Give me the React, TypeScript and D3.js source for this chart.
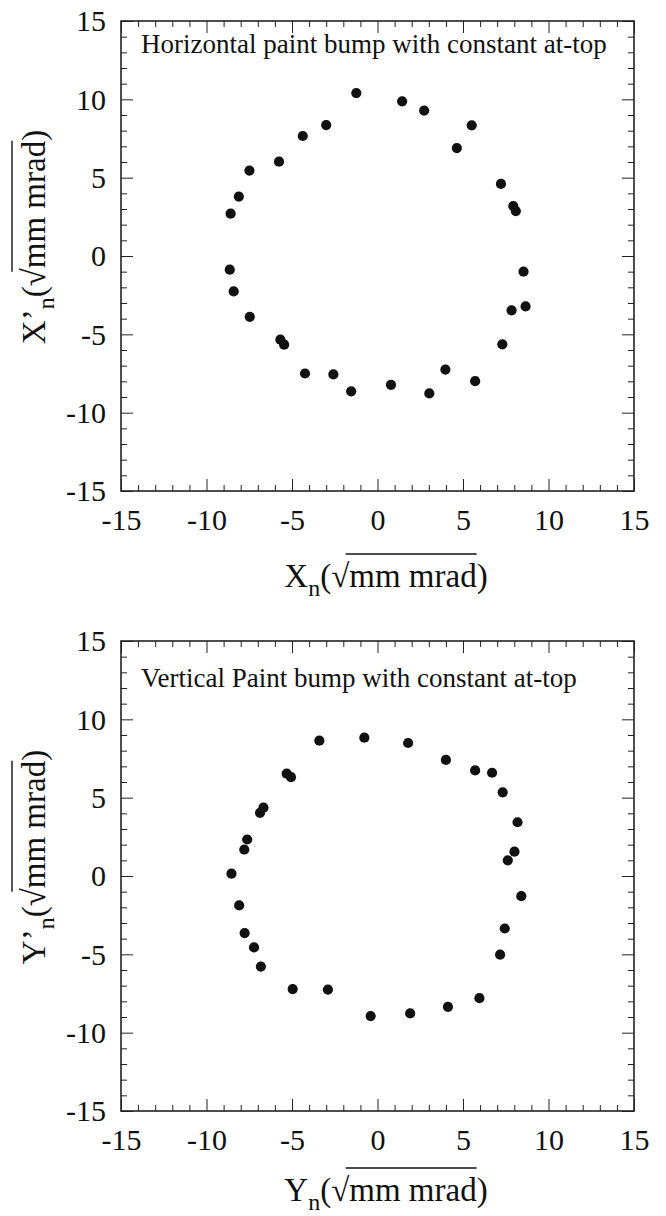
import React, { useRef, useEffect } from "react";
import * as d3 from "d3";

// phase-space points
const H_X = [-1.24, 1.44, 2.73, 5.51, 4.64, 7.22, 7.94, 8.09, 8.54, 8.66, 7.84, 7.3, 5.71, 3.97, 3.03, 0.79, -1.54, -2.58, -4.24, -5.46, -5.68, -7.47, -8.41, -8.64, -8.59, -8.11, -7.49, -5.76, -4.37, -3.0];
const H_Y = [10.4, 9.87, 9.28, 8.34, 6.89, 4.6, 3.19, 2.87, -1.0, -3.22, -3.47, -5.64, -7.99, -7.25, -8.77, -8.22, -8.64, -7.56, -7.5, -5.66, -5.34, -3.88, -2.26, -0.87, 2.7, 3.79, 5.45, 6.02, 7.66, 8.36];

const V_X = [-3.4, -0.77, 1.79, 4.0, 5.71, 6.7, 7.32, 8.19, 8.01, 7.62, 8.41, 7.44, 7.17, 5.96, 4.12, 1.91, -0.4, -2.9, -4.96, -6.82, -7.22, -7.77, -8.09, -8.54, -7.79, -7.62, -6.87, -6.67, -5.31, -5.06];
const V_Y = [8.64, 8.83, 8.49, 7.41, 6.74, 6.59, 5.34, 3.43, 1.55, 1.0, -1.29, -3.35, -5.02, -7.8, -8.35, -8.77, -8.94, -7.25, -7.22, -5.78, -4.56, -3.64, -1.88, 0.15, 1.69, 2.33, 4.03, 4.36, 6.53, 6.31];

const DOMAIN = [-15, 15];
const MAJOR = [-15, -10, -5, 0, 5, 10, 15];
const MINOR = d3.range(-15, 16).filter((v) => v % 5 !== 0);

const FONT = "Liberation Serif";

// plain hyphen like the original, not the unicode minus
const fmt = (d) => String(d);

function drawTitle(svg, tx, ty, rotate, main, fs) {
  const g = svg
    .append("g")
    .attr("transform", `translate(${tx},${ty})${rotate ? " rotate(-90)" : ""}`);
  const t = g
    .append("text")
    .attr("text-anchor", "middle")
    .style("font-family", FONT)
    .style("font-size", fs + "px")
    .attr("fill", "#111");
  t.append("tspan").text(main);
  t.append("tspan").attr("dy", 9).style("font-size", "24px").text("n");
  t.append("tspan").attr("dy", -9).text("(\u221A");
  t.append("tspan").text("mm mrad");
  t.append("tspan").text(")");

  // overline of the radical, measured from the glyphs
  const node = t.node();
  const full = main + "n(\u221Amm mrad)";
  const iRad = full.indexOf("\u221A");
  const iD = full.indexOf("d)");
  try {
    const a = node.getExtentOfChar(iRad);
    const b = node.getExtentOfChar(iD);
    g.append("line")
      .attr("x1", a.x + a.width * 0.8)
      .attr("x2", b.x + b.width)
      .attr("y1", -fs * 1.0)
      .attr("y2", -fs * 1.0)
      .attr("stroke", "#111")
      .attr("stroke-width", 1.4);
  } catch (e) {
    // ignore
  }
}

function drawPanel(svg, xs, ys, top, note, noteY, xMain, yMain, xTitleY) {
  const left = 121;
  const right = 634;
  const bottom = top + 470;

  const x = d3.scaleLinear().domain(DOMAIN).range([left, right]);
  const y = d3.scaleLinear().domain(DOMAIN).range([bottom, top]);

  const g = svg.append("g");

  const styleAxis = (sel) => {
    sel.attr("font-family", FONT).attr("font-size", 30);
    sel.select(".domain").remove();
    sel.selectAll("line").attr("stroke", "#222").attr("stroke-width", 1);
    sel
      .selectAll("text")
      .style("font-family", FONT)
      .style("font-size", "30px")
      .attr("fill", "#111");
  };

  // bottom: major with labels, minor without
  g.append("g")
    .attr("transform", `translate(0,${bottom})`)
    .call(d3.axisBottom(x).tickValues(MAJOR).tickSize(-12).tickPadding(0).tickFormat(fmt))
    .call(styleAxis)
    .call((s) => s.selectAll("text").attr("y", 39).attr("dy", null));
  g.append("g")
    .attr("transform", `translate(0,${bottom})`)
    .call(d3.axisBottom(x).tickValues(MINOR).tickSize(-6).tickFormat(() => ""))
    .call(styleAxis);

  // top
  g.append("g")
    .attr("transform", `translate(0,${top})`)
    .call(d3.axisTop(x).tickValues(MAJOR).tickSize(-12).tickFormat(() => ""))
    .call(styleAxis);
  g.append("g")
    .attr("transform", `translate(0,${top})`)
    .call(d3.axisTop(x).tickValues(MINOR).tickSize(-6).tickFormat(() => ""))
    .call(styleAxis);

  // left
  g.append("g")
    .attr("transform", `translate(${left},0)`)
    .call(d3.axisLeft(y).tickValues(MAJOR).tickSize(-12).tickPadding(15).tickFormat(fmt))
    .call(styleAxis)
    .call((s) => s.selectAll("text").attr("x", -15).attr("dy", "0.33em"));
  g.append("g")
    .attr("transform", `translate(${left},0)`)
    .call(d3.axisLeft(y).tickValues(MINOR).tickSize(-6).tickFormat(() => ""))
    .call(styleAxis);

  // right
  g.append("g")
    .attr("transform", `translate(${right},0)`)
    .call(d3.axisRight(y).tickValues(MAJOR).tickSize(-12).tickFormat(() => ""))
    .call(styleAxis);
  g.append("g")
    .attr("transform", `translate(${right},0)`)
    .call(d3.axisRight(y).tickValues(MINOR).tickSize(-6).tickFormat(() => ""))
    .call(styleAxis);

  // frame
  g.append("rect")
    .attr("x", left)
    .attr("y", top)
    .attr("width", right - left)
    .attr("height", bottom - top)
    .attr("fill", "none")
    .attr("stroke", "#222")
    .attr("stroke-width", 1.6);

  // points
  g.append("g")
    .selectAll("circle")
    .data(xs.map((v, i) => [v, ys[i]]))
    .enter()
    .append("circle")
    .attr("cx", (d) => x(d[0]))
    .attr("cy", (d) => y(d[1]))
    .attr("r", 5.1)
    .attr("fill", "#111");

  g.append("text")
    .attr("x", 141)
    .attr("y", top + noteY)
    .style("font-family", FONT)
    .style("font-size", "27px")
    .attr("fill", "#111")
    .text(note);

  drawTitle(g, 386, xTitleY, false, xMain, 33);
  drawTitle(g, 45, top + 216, true, yMain, 33);
}

export default function App() {
  const svgRef = useRef(null);

  useEffect(() => {
    const svg = d3.select(svgRef.current);
    svg.selectAll("*").remove();

    drawPanel(svg, H_X, H_Y, 21, "Horizontal paint bump with constant at-top", 32, "X", "X\u2019", 587);
    drawPanel(svg, V_X, V_Y, 641, "Vertical Paint bump with constant at-top", 46, "Y", "Y\u2019", 1201);
  }, []);

  return (
    <svg
      ref={svgRef}
      width={666}
      height={1216}
      style={{ position: "absolute", left: 0, top: 0, background: "#fff" }}
    ></svg>
  );
}
